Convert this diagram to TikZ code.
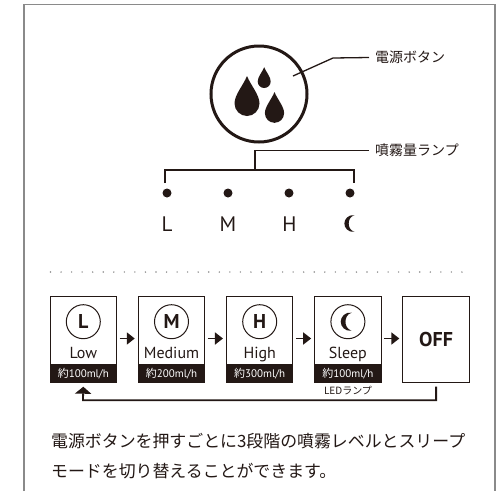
\documentclass[tikz,border=0pt]{standalone}
\usepackage{fontspec}
\usepackage{xcolor}
\setmainfont{PT Sans}
\newfontfamily\jpfont{Noto Sans CJK JP}
\definecolor{inkblack}{HTML}{231815}
\definecolor{framegray}{HTML}{8A8A8A}
\usetikzlibrary{arrows.meta}
\tikzset{
  pics/waterdrop/.style={code={\fill[inkblack] (0,-2.2) .. controls (.3,-1.45) and (1,-.7) .. (1,0) .. controls (1,.55) and (.55,1) .. (0,1) .. controls (-.55,1) and (-1,.55) .. (-1,0) .. controls (-1,-.7) and (-.3,-1.45) .. (0,-2.2) -- cycle;}},
  pics/moon/.style={code={\fill[inkblack] (.5,-.95) .. controls (-.2,-1.05) and (-.65,-.5) .. (-.65,0) .. controls (-.65,.5) and (-.2,1.05) .. (.5,.95) .. controls (0,.8) and (-.15,.35) .. (-.15,0) .. controls (-.15,-.35) and (0,-.8) .. (.5,-.95) -- cycle;}}
}
\begin{document}
\begin{tikzpicture}[x=1pt,y=-1pt,node distance=88.2pt,
  line/.style={draw=inkblack,line width=1.3pt},
  flow/.style={draw=inkblack,line width=1.8pt,-{Triangle[length=8pt,width=12pt]}},
  box/.style={draw=inkblack,line width=1pt,fill=white,minimum width=66.5pt,minimum height=86pt,inner sep=0pt},
  strip/.style={fill=inkblack,text=white,minimum width=67.5pt,minimum height=18.7pt,inner sep=0pt,font=\fontsize{11}{12}\selectfont},
  icon/.style={circle,draw=inkblack,line width=1pt,minimum size=34pt,inner sep=0pt,font=\fontsize{20}{22}\selectfont\bfseries,text=inkblack},
  mode/.style={inner sep=0pt,anchor=base,text=inkblack,font=\fontsize{16}{18}\selectfont},
  lamp/.style={circle,fill=inkblack,minimum size=9pt,inner sep=0pt},
  letter/.style={inner sep=0pt,text=inkblack,font=\fontsize{21}{23}\selectfont},
  callout/.style={inner sep=0pt,anchor=west,text=inkblack,font=\jpfont\fontsize{14}{16}\selectfont}]
\useasboundingbox (0,0) rectangle (499,491);
\fill[white] (0,0) rectangle (499,491);
\draw[framegray,line width=1.5pt] (24,491) -- (24,4.3) -- (495,4.3) -- (495,491);
% power button
\node (power) [circle,draw=inkblack,line width=3pt,minimum size=96pt,inner sep=0pt] at (259,94) {};
\pic[scale=12.5] at (247,103.5) {waterdrop};
\pic[scale=6.5] at (264.2,81.5) {waterdrop};
\pic[scale=9.6] at (274.5,113.2) {waterdrop};
\node (powerlabel) [callout] at (375,57.5) {電源ボタン};
\coordinate (powerend) at (293,76);
\draw[line] (powerend) -- (333,58) -- (powerlabel.west -| 369,0);
% lamps
\node (lampl) [lamp] at (167,193) {};
\node (lampm) [lamp] at (228,193) {};
\node (lamph) [lamp] at (289,193) {};
\node (lamps) [lamp] at (350,193) {};
\node (letl) [letter] at (167,224.5) {L};
\node (letm) [letter] at (228,224.5) {M};
\node (leth) [letter] at (289.5,224.5) {H};
\pic[scale=8.7] at (350,223.5) {moon};
\node (lamplabel) [callout] at (375,150.5) {噴霧量ランプ};
\coordinate (leftdrop) at (165,183);
\coordinate (rightdrop) at (354,183);
\draw[line] (lamplabel.west -| 369,0) -| (255,170);
\draw[line] (leftdrop) |- (255,170) -| (rightdrop);
% dots
\foreach \i in {0,...,39}
  \fill[black!45] (50.5+\i*10.55,272) circle (.8pt);
% mode boxes
\node (low) [box] at (83.3,339.7) {};
\node (medium) [box,right of=low] {};
\node (high) [box,right of=medium] {};
\node (sleep) [box,right of=high] {};
\node (off) [box,right of=sleep,font=\fontsize{20}{22}\selectfont\bfseries,text=inkblack] {OFF};
\node (lowstrip) [strip,anchor=south] at (low.south) {{\jpfont 約}100ml/h};
\node (mediumstrip) [strip,anchor=south] at (medium.south) {{\jpfont 約}200ml/h};
\node (highstrip) [strip,anchor=south] at (high.south) {{\jpfont 約}300ml/h};
\node (sleepstrip) [strip,anchor=south] at (sleep.south) {{\jpfont 約}100ml/h};
\node (lowicon) [icon] at (low.center |- 0,321.7) {L};
\node (mediumicon) [icon] at (medium.center |- 0,321.7) {M};
\node (highicon) [icon] at (high.center |- 0,321.7) {H};
\node (sleepicon) [icon] at (sleep.center |- 0,321.7) {};
\pic[scale=9.5] at ([xshift=-1pt]sleepicon.center) {moon};
\node (lowname) [mode] at (low.center |- 0,358.7) {Low};
\node (mediumname) [mode] at (medium.center |- 0,358.7) {Medium};
\node (highname) [mode] at (high.center |- 0,358.7) {High};
\node (sleepname) [mode] at (sleep.center |- 0,358.7) {Sleep};
\draw[flow] ([xshift=2.5pt]low.east |- 0,338.5) -- ([xshift=-3pt]medium.west |- 0,338.5);
\draw[flow] ([xshift=2.5pt]medium.east |- 0,338.5) -- ([xshift=-3pt]high.west |- 0,338.5);
\draw[flow] ([xshift=2.5pt]high.east |- 0,338.5) -- ([xshift=-3pt]sleep.west |- 0,338.5);
\draw[flow] ([xshift=2.5pt]sleep.east |- 0,338.5) -- ([xshift=-3pt]off.west |- 0,338.5);
\draw[flow,-{Triangle[length=7pt,width=16pt]}] ([yshift=-3.5pt]off.south) |- (83,400.3) -- ([yshift=-3.5pt]low.south);
\node (ledlabel) [inner sep=0pt,text=inkblack,font=\jpfont\fontsize{10}{12}\selectfont] at (348,391) {LEDランプ};
% caption
\node (caption) [inner sep=0pt,anchor=north west,align=left,text=inkblack,font=\jpfont\fontsize{16.9}{30}\selectfont] at (51,433.5) {電源ボタンを押すごとに3段階の噴霧レベルとスリープ\\モードを切り替えることができます。};
\end{tikzpicture}
\end{document}
